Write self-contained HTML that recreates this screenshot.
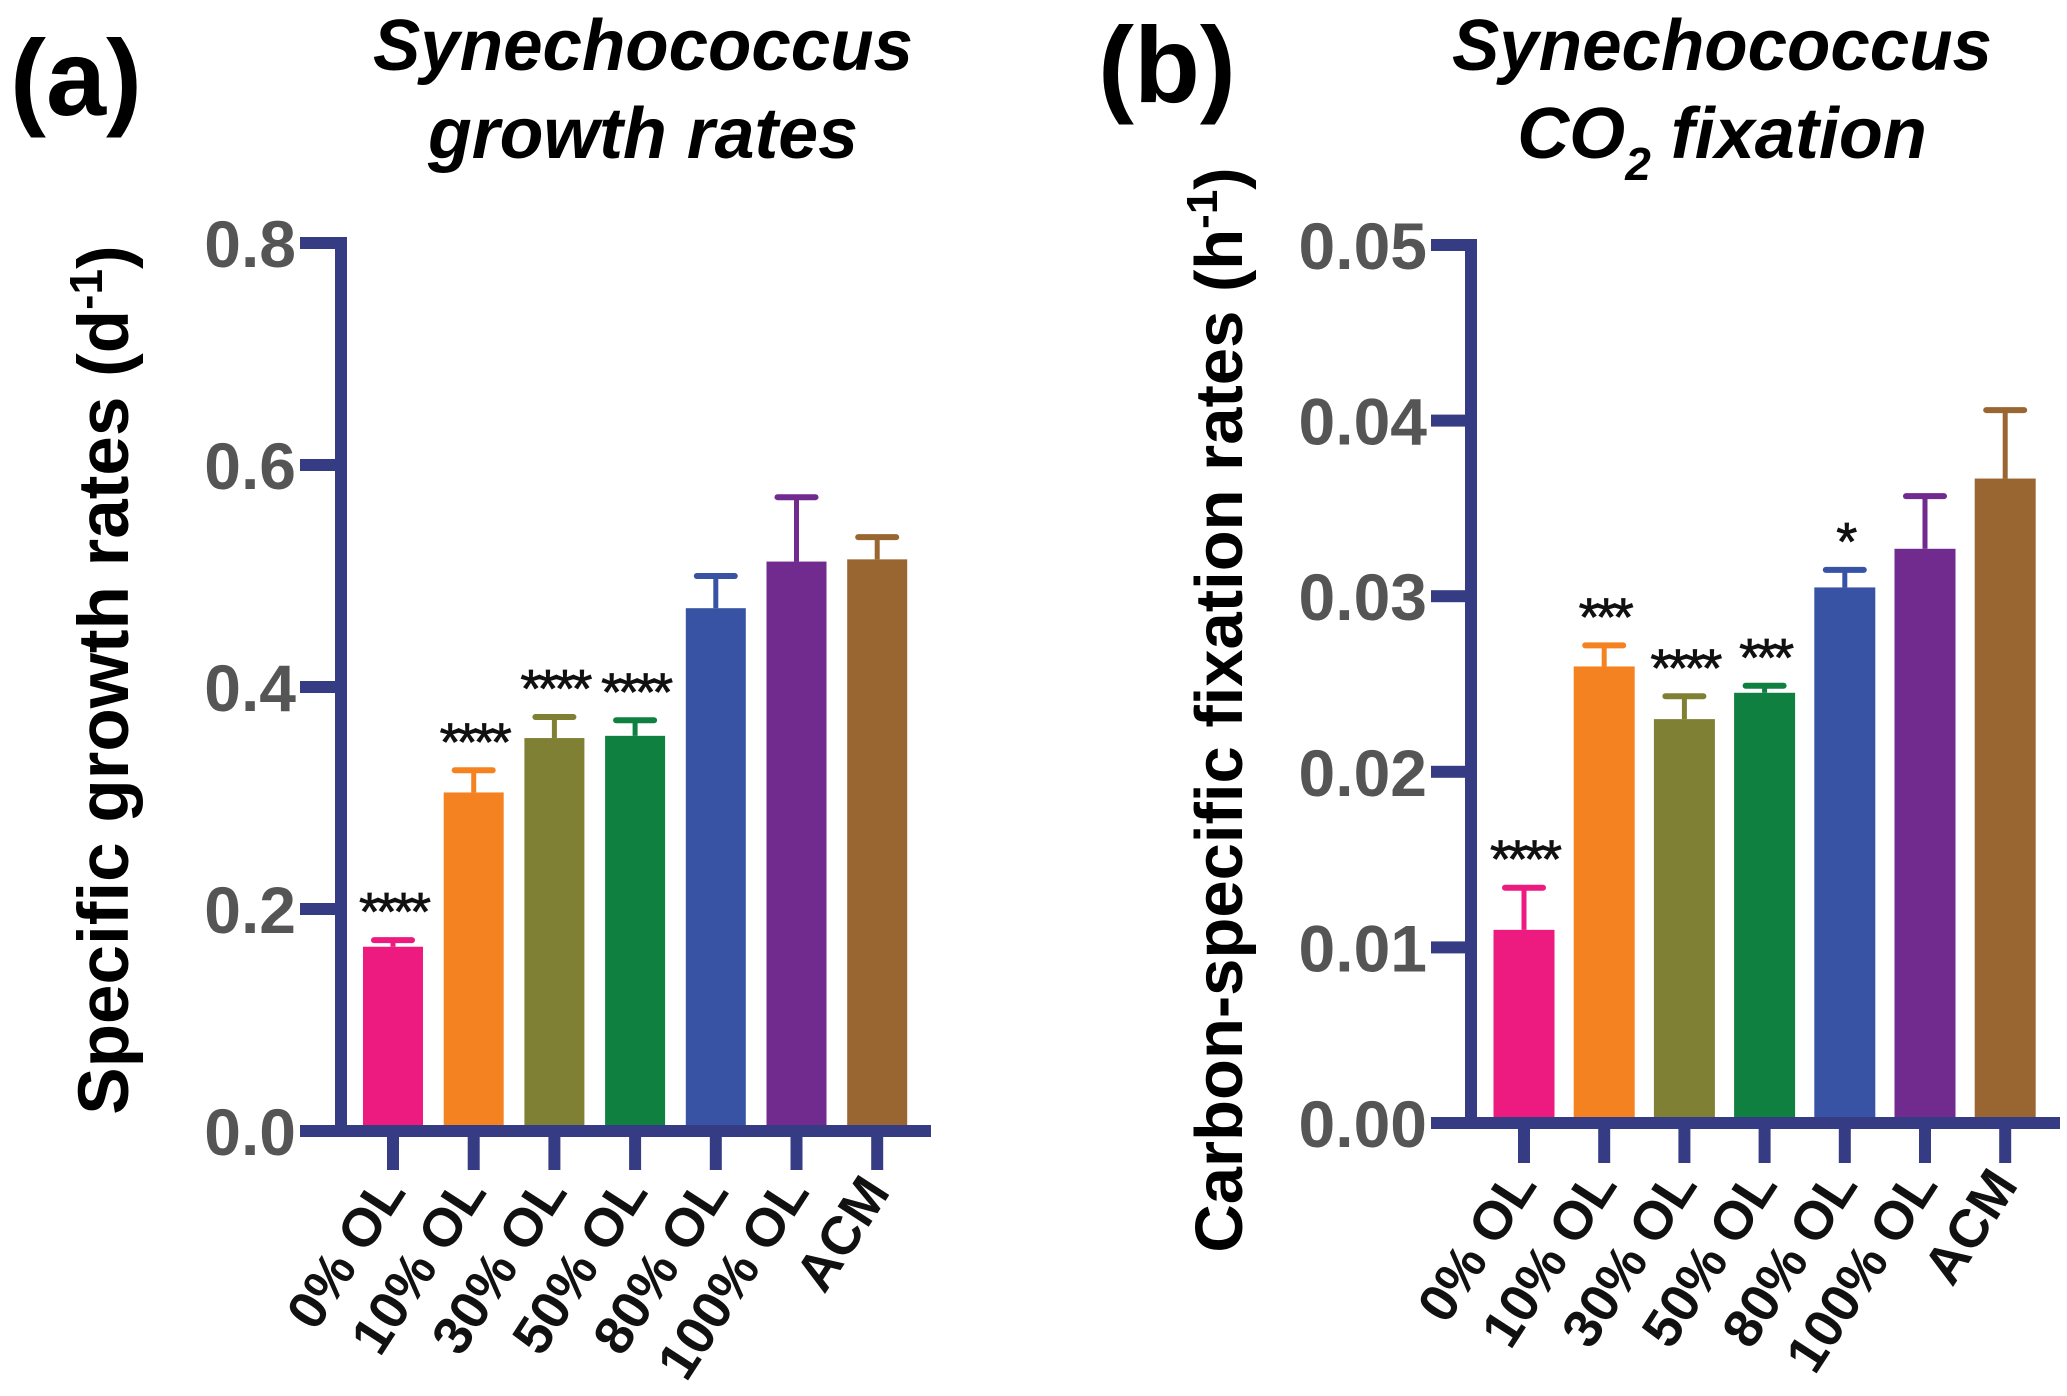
<!DOCTYPE html>
<html><head><meta charset="utf-8"><style>
html,body{margin:0;padding:0;background:#fff;}
svg{display:block;font-family:"Liberation Sans",Arial,sans-serif;}
</style></head><body>
<svg id="fig" width="2067" height="1396" viewBox="0 0 2067 1396">
<text x="10" y="115" font-size="108" font-weight="bold">(a)</text>
<text x="1098" y="102" font-size="108" font-weight="bold">(b)</text>
<text x="643" y="70" font-size="72" font-weight="bold" font-style="italic" text-anchor="middle" textLength="540" lengthAdjust="spacingAndGlyphs">Synechococcus</text>
<text x="643" y="158" font-size="72" font-weight="bold" font-style="italic" text-anchor="middle" textLength="430" lengthAdjust="spacingAndGlyphs">growth rates</text>
<text x="1722" y="70" font-size="72" font-weight="bold" font-style="italic" text-anchor="middle" textLength="540" lengthAdjust="spacingAndGlyphs">Synechococcus</text>
<text x="1722" y="158" font-size="72" font-weight="bold" font-style="italic" text-anchor="middle">CO<tspan font-size="46" dy="22">2</tspan><tspan dy="-22"> fixation</tspan></text>
<text transform="translate(128,680) rotate(-90)" font-size="71" font-weight="bold" text-anchor="middle">Specific growth rates (d<tspan font-size="46" dy="-26">-1</tspan><tspan dy="26">)</tspan></text>
<text transform="translate(1242,710) rotate(-90)" font-size="67" font-weight="bold" text-anchor="middle">Carbon-specific fixation rates (h<tspan font-size="44" dy="-25">-1</tspan><tspan dy="25">)</tspan></text>
<g id="ga"></g>
<g id="gb"></g>
</svg>
<script>
const categories = ["0% OL","10% OL","30% OL","50% OL","80% OL","100% OL","ACM"];
const colors = ["#ED1A80","#F58220","#7F8033","#0F8040","#3853A4","#712A8D","#996632"];
const growthValues = [0.166,0.305,0.354,0.356,0.471,0.513,0.515];
const growthErrTops = [0.172,0.325,0.373,0.370,0.500,0.571,0.535];
const growthStars = ["****","****","****","****","","",""];
const growthTicks = [0.0,0.2,0.4,0.6,0.8];
const growthTickLabels = ["0.0","0.2","0.4","0.6","0.8"];
const fixValues = [0.0110,0.0260,0.0230,0.0245,0.0305,0.0327,0.0367];
const fixErrTops = [0.0134,0.0272,0.0243,0.0249,0.0315,0.0357,0.0406];
const fixStars = ["****","***","****","***","*","",""];
const fixTicks = [0,0.01,0.02,0.03,0.04,0.05];
const fixTickLabels = ["0.00","0.01","0.02","0.03","0.04","0.05"];

const NS="http://www.w3.org/2000/svg";
const AX="#353C84";
function mk(parent,tag,attrs){const e=document.createElementNS(NS,tag);for(const k in attrs)e.setAttribute(k,attrs[k]);parent.appendChild(e);return e;}

function drawChart(g,cfg,vals,errs,stars,ticks,tlabels,prefix){
  const y=v=>cfg.y0-(v-ticks[0])/(ticks[ticks.length-1]-ticks[0])*(cfg.y0-cfg.yTop);
  const x=i=>cfg.x0+i*cfg.step;
  vals.forEach((v,i)=>{
    const r=mk(g,'rect',{x:x(i)-cfg.bw/2,y:y(v),width:cfg.bw,height:cfg.y0-y(v),fill:colors[i]});
    
    
    const el=mk(g,'line',{x1:x(i),x2:x(i),y1:y(v),y2:y(errs[i]),stroke:colors[i],'stroke-width':5});
    
    
    const cap=mk(g,'line',{x1:x(i)-19,x2:x(i)+19,y1:y(errs[i]),y2:y(errs[i]),stroke:colors[i],'stroke-width':6,'stroke-linecap':'round'});
    
    
    if(stars[i]){
      const s=mk(g,'text',{x:x(i),y:y(errs[i])-10,'font-size':54,'text-anchor':'middle',fill:'#111',stroke:'#111','stroke-width':0.8,'letter-spacing':-4});
      s.textContent=stars[i];
      
      
    }
    const tk=mk(g,'rect',{x:x(i)-6,y:cfg.y0,width:12,height:cfg.tickDown-cfg.y0,fill:AX});
    
    
    const lx=x(i)+14, ly=cfg.tickDown+22;
    const lt=mk(g,'text',{x:0,y:0,'font-size':54,'font-weight':'bold','text-anchor':'end',transform:`translate(${lx},${ly}) rotate(-57)`,fill:'#111'});
    lt.textContent=categories[i];
    
    
  });
  const ya=mk(g,'rect',{x:cfg.ax-6,y:cfg.yTop-6,width:12,height:cfg.y0-cfg.yTop+6,fill:AX});
  
  
  ticks.forEach((t,k)=>{
    const tr=mk(g,'rect',{x:cfg.tickLeft,y:y(t)-6,width:cfg.ax-cfg.tickLeft,height:12,fill:AX});
    
    
    const tl=mk(g,'text',{x:cfg.tickLeft-4,y:y(t)+24,'font-size':66,'font-weight':'bold','text-anchor':'end',fill:'#555'});
    tl.textContent=tlabels[k];
    
    
  });
  const xa=mk(g,'rect',{x:cfg.tickLeft,y:cfg.y0-6,width:cfg.xEnd-cfg.tickLeft,height:12,fill:AX});
  
  
}
drawChart(document.getElementById('ga'),{x0:393,step:80.7,bw:60,y0:1131,yTop:243,ax:341,tickLeft:300,xEnd:931,tickDown:1170},growthValues,growthErrTops,growthStars,growthTicks,growthTickLabels,'growth');
drawChart(document.getElementById('gb'),{x0:1524,step:80.2,bw:61,y0:1123,yTop:245,ax:1471,tickLeft:1431,xEnd:2060,tickDown:1163},fixValues,fixErrTops,fixStars,fixTicks,fixTickLabels,'fixation');
</script>
</body></html>
